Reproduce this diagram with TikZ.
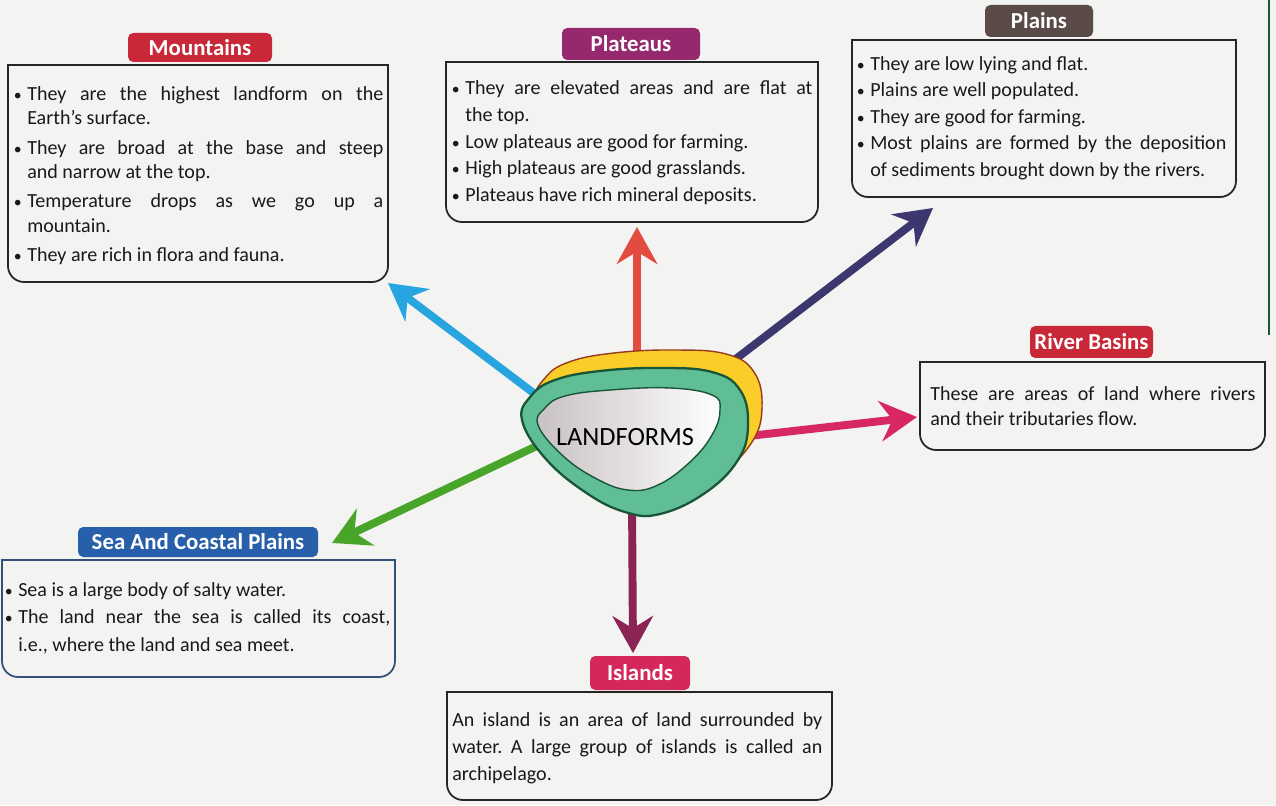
\documentclass[tikz,border=0pt]{standalone}
\usepackage{fontspec}
\setmainfont{Carlito}
\usetikzlibrary{arrows.meta}
\frenchspacing
\definecolor{paper}{RGB}{243,243,241}
\definecolor{tagred}{RGB}{200,40,55}
\definecolor{tagplum}{RGB}{150,40,110}
\definecolor{tagbrown}{RGB}{90,75,72}
\definecolor{tagblue}{RGB}{40,95,170}
\definecolor{tagpink}{RGB}{213,40,90}
\definecolor{seaedge}{RGB}{50,80,120}
\definecolor{spokeblue}{RGB}{40,165,225}
\definecolor{spokered}{RGB}{226,76,64}
\definecolor{spokenavy}{RGB}{60,55,110}
\definecolor{spokepink}{RGB}{215,40,100}
\definecolor{spokegreen}{RGB}{72,165,42}
\definecolor{spokemaroon}{RGB}{140,35,85}
\definecolor{mint}{RGB}{96,190,150}
\definecolor{deepgreen}{RGB}{25,85,55}
\definecolor{sun}{RGB}{250,205,40}
\definecolor{rust}{RGB}{150,60,30}
\definecolor{blush}{RGB}{200,192,195}
\newcommand{\dotitem}{\noindent\hangindent=8.5pt\hangafter=1\makebox[8.5pt][l]{\hspace{0.8pt}{\fontsize{9}{9}\selectfont\textbullet}}}
\tikzset{
  card/.style={draw=black!85, line width=1pt},
  cardtext/.style={anchor=north west, inner sep=0pt, align=justify, text=black!90, font=\fontsize{11.4}{15.3}\selectfont},
  tag/.style={rounded corners=3pt, inner sep=0pt, text=white, font=\bfseries\fontsize{13}{13}\selectfont},
  spoke/.style={line width=4.5pt, -{Stealth[length=21pt, width=23pt, inset=7pt]}},
  halo/.style={fill=sun, draw=rust, line width=0.8pt},
  ring/.style={fill=mint, draw=deepgreen, line width=1.3pt},
  core/.style={left color=blush, right color=white, draw=deepgreen, line width=0.8pt},
  hublabel/.style={font=\fontsize{15}{15}\selectfont, text=black},
}
\begin{document}
\begin{tikzpicture}
\useasboundingbox (0,0) rectangle (25.52,16.10);
\fill[paper] (0,0) rectangle (25.52,16.10);
\draw[deepgreen, line width=1.2pt] (25.38,16.10) -- (25.38,9.40);
\draw[card] (0.160,14.800) -- (7.760,14.800) -- (7.760,10.780) arc[start angle=0, end angle=-90, radius=0.32] -- (0.480,10.460) arc[start angle=270, end angle=180, radius=0.32] -- cycle;
\draw[card] (8.920,14.860) -- (16.360,14.860) -- (16.360,11.980) arc[start angle=0, end angle=-90, radius=0.32] -- (9.240,11.660) arc[start angle=270, end angle=180, radius=0.32] -- cycle;
\draw[card] (17.040,15.300) -- (24.720,15.300) -- (24.720,12.480) arc[start angle=0, end angle=-90, radius=0.32] -- (17.360,12.160) arc[start angle=270, end angle=180, radius=0.32] -- cycle;
\draw[card] (18.400,8.860) -- (25.300,8.860) -- (25.300,7.420) arc[start angle=0, end angle=-90, radius=0.32] -- (18.720,7.100) arc[start angle=270, end angle=180, radius=0.32] -- cycle;
\draw[card, draw=seaedge] (0.040,4.900) -- (7.900,4.900) -- (7.900,2.880) arc[start angle=0, end angle=-90, radius=0.32] -- (0.360,2.560) arc[start angle=270, end angle=180, radius=0.32] -- cycle;
\draw[card] (8.940,2.260) -- (16.640,2.260) -- (16.640,0.420) arc[start angle=0, end angle=-90, radius=0.32] -- (9.260,0.100) arc[start angle=270, end angle=180, radius=0.32] -- cycle;
\node[tag, fill=tagred, minimum width=2.88cm, minimum height=0.58cm] (mtag) at (4.000,15.150) {Mountains};
\node[tag, fill=tagplum, minimum width=2.76cm, minimum height=0.64cm] (ptag) at (12.620,15.220) {Plateaus};
\node[tag, fill=tagbrown, minimum width=2.16cm, minimum height=0.64cm] (ltag) at (20.780,15.680) {Plains};
\node[tag, fill=tagred, minimum width=2.46cm, minimum height=0.64cm] (rtag) at (21.830,9.260) {River Basins};
\node[tag, fill=tagblue, minimum width=4.80cm, minimum height=0.60cm] (stag) at (3.960,5.260) {Sea And Coastal Plains};
\node[tag, fill=tagpink, minimum width=2.00cm, minimum height=0.68cm] (itag) at (12.800,2.640) {Islands};
\node[cardtext, text width=7.42cm, font=\fontsize{11.4}{13.9}\selectfont\setlength{\parskip}{2.8pt}] (mtext) at (0.240,14.380) {%
\dotitem They are the highest landform on the\linebreak Earth’s surface.\par
\dotitem They are broad at the base and steep\linebreak and narrow at the top.\par
\dotitem Temperature drops as we go up a\linebreak mountain.\par
\dotitem They are rich in flora and fauna.\par};
\node[cardtext, text width=7.24cm] (ptext) at (9.000,14.500) {%
\dotitem They are elevated areas and are flat at\linebreak the top.\par
\dotitem Low plateaus are good for farming.\par
\dotitem High plateaus are good grasslands.\par
\dotitem Plateaus have rich mineral deposits.\par};
\node[cardtext, text width=7.42cm, font=\fontsize{11.4}{15.1}\selectfont] (ltext) at (17.100,14.980) {%
\dotitem They are low lying and flat.\par
\dotitem Plains are well populated.\par
\dotitem They are good for farming.\par
\dotitem Most plains are formed by the deposition\linebreak of sediments brought down by the rivers.\par};
\node[cardtext, text width=6.50cm, font=\fontsize{11.4}{14.5}\selectfont] (rtext) at (18.600,8.380) {%
These are areas of land where rivers\linebreak and their tributaries flow.\par};
\node[cardtext, text width=7.74cm, font=\fontsize{11.4}{15.6}\selectfont] (stext) at (0.060,4.460) {%
\dotitem Sea is a large body of salty water.\par
\dotitem The land near the sea is called its coast,\linebreak i.e., where the land and sea meet.\par};
\node[cardtext, text width=7.40cm] (itext) at (9.040,1.860) {%
An island is an area of land surrounded by\linebreak water. A large group of islands is called an\linebreak archipelago.\par};
\coordinate (mfoot) at (11.20,7.84);
\coordinate (mtip) at (7.76,10.44);
\coordinate (pfoot) at (12.74,8.50);
\coordinate (ptip) at (12.74,11.56);
\coordinate (lfoot) at (13.80,8.22);
\coordinate (ltip) at (18.66,11.94);
\coordinate (rfoot) at (14.80,7.36);
\coordinate (rtip) at (18.34,7.76);
\coordinate (sfoot) at (11.20,7.40);
\coordinate (stip) at (6.64,5.24);
\coordinate (ifoot) at (12.64,6.10);
\coordinate (itip) at (12.66,3.04);
\draw[spoke, spokeblue] (mfoot) -- (mtip);
\draw[spoke, spokered] (pfoot) -- (ptip);
\draw[spoke, spokenavy] (lfoot) -- (ltip);
\draw[spoke, spokepink] (rfoot) -- (rtip);
\draw[spoke, spokegreen] (sfoot) -- (stip);
\draw[spoke, spokemaroon] (ifoot) -- (itip);
\draw[halo, shift={(0.28,0.36)}] plot[smooth cycle, tension=0.7] coordinates {(10.44,7.70) (10.62,8.18) (11.10,8.50) (12.00,8.68) (13.20,8.74) (14.24,8.66) (14.80,8.30) (14.96,7.60) (14.76,6.90) (14.10,6.24) (13.20,5.82) (12.50,5.86) (11.70,6.26) (10.90,6.94)};
\draw[ring] plot[smooth cycle, tension=0.7] coordinates {(10.44,7.70) (10.62,8.18) (11.10,8.50) (12.00,8.68) (13.20,8.74) (14.24,8.66) (14.80,8.30) (14.96,7.60) (14.76,6.90) (14.10,6.24) (13.20,5.82) (12.50,5.86) (11.70,6.26) (10.90,6.94)};
\shade[core] plot[smooth cycle, tension=0.7] coordinates {(10.76,7.60) (10.90,7.94) (11.30,8.18) (12.20,8.30) (13.40,8.34) (14.24,8.20) (14.40,7.90) (14.24,7.40) (13.80,6.86) (13.16,6.40) (12.56,6.30) (11.90,6.54) (11.24,7.00)};
\node[hublabel] (hub) at (12.500,7.360) {LANDFORMS};
\end{tikzpicture}
\end{document}
